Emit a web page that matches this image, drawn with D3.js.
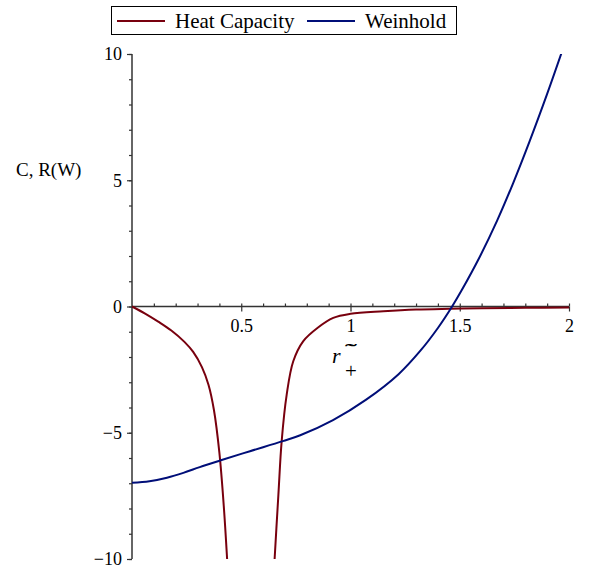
<!DOCTYPE html>
<html>
<head>
<meta charset="utf-8">
<script src="https://cdn.jsdelivr.net/npm/d3@7"></script>
<style>
  body { margin: 0; background: #fff; }
  text { font-family: "Liberation Serif", "Times New Roman", serif; fill: #000; }
</style>
</head>
<body>
<div id="viz"></div>
<script>
// heat capacity, left branch (before the pole) and right branch (after it)
var heatX1 = [0, 0.06, 0.12, 0.18, 0.24, 0.28, 0.32, 0.35, 0.375, 0.4, 0.42, 0.436, 0.445];
var heatY1 = [0, -0.28, -0.6, -0.95, -1.4, -1.8, -2.4, -3.1, -4.1, -5.8, -7.9, -10.1, -11.5];
var heatX2 = [0.64, 0.65, 0.67, 0.685, 0.708, 0.738, 0.784, 0.85, 0.921, 1.0, 1.15, 1.3, 1.455, 1.6, 1.8, 2.0];
var heatY2 = [-12, -10.4, -7.45, -5.33, -3.49, -2.17, -1.37, -0.84, -0.45, -0.29, -0.19, -0.12, -0.09, -0.07, -0.05, -0.04];

// Weinhold curvature
var weinX = [0, 0.08, 0.16, 0.235, 0.31, 0.403, 0.54, 0.69, 0.77, 0.92, 1.07, 1.22, 1.32, 1.40, 1.465, 1.51, 1.59, 1.67, 1.745, 1.82, 1.9, 1.966];
var weinY = [-6.98, -6.92, -6.78, -6.59, -6.36, -6.1, -5.73, -5.33, -5.1, -4.5, -3.7, -2.68, -1.75, -0.85, 0, 0.66, 1.94, 3.38, 4.9, 6.55, 8.42, 10.05];

var xMajor = [0.5, 1, 1.5, 2];
var xMinor = d3.range(1, 21).map(function(i) { return i / 10; });
var yMajor = [-10, -5, 0, 5, 10];
var yMinor = d3.range(-10, 11);

var legendNames = ["Heat Capacity", "Weinhold"];
var colors = ["#78000E", "#000E78"];

var width = 591, height = 572;

var svg = d3.select("#viz").append("svg")
    .attr("width", width)
    .attr("height", height);

svg.append("rect").attr("width", width).attr("height", height).attr("fill", "#fff");

var x = d3.scaleLinear().domain([0, 2]).range([132, 569]);
var y = d3.scaleLinear().domain([-10, 10]).range([559, 54]);

/* axes */
var axisColor = "#333";

var xAxisG = svg.append("g").attr("transform", "translate(0," + y(0) + ")");
xAxisG.call(d3.axisTop(x).tickValues(xMinor).tickSize(3).tickFormat(""));
xAxisG.call(function(g) { g.select(".domain").remove(); });
var xMajorG = svg.append("g").attr("transform", "translate(0," + y(0) + ")")
    .call(d3.axisBottom(x).tickValues(xMajor).tickSize(5).tickPadding(8).tickFormat(d3.format("")));
xMajorG.select(".domain").remove();
xMajorG.selectAll("text").style("font-size", "18px").style("font-family", "'Liberation Serif', serif");

var yMinorG = svg.append("g").attr("transform", "translate(" + x(0) + ",0)")
    .call(d3.axisLeft(y).tickValues(yMinor).tickSize(3).tickFormat(""));
yMinorG.select(".domain").remove();
var yMajorG = svg.append("g").attr("transform", "translate(" + x(0) + ",0)")
    .call(d3.axisLeft(y).tickValues(yMajor).tickSize(5).tickPadding(5)
      .tickFormat(function(d) { return d < 0 ? "\u2212" + Math.abs(d) : d; }));
yMajorG.select(".domain").remove();
yMajorG.selectAll("text").style("font-size", "18px").style("font-family", "'Liberation Serif', serif");

svg.selectAll(".tick line").attr("stroke", axisColor).attr("stroke-width", 1.2);

svg.append("line")
    .attr("x1", x(0)).attr("x2", x(2))
    .attr("y1", y(0)).attr("y2", y(0))
    .attr("stroke", axisColor).attr("stroke-width", 1.5);
svg.append("line")
    .attr("x1", x(0)).attr("x2", x(0))
    .attr("y1", y(10)).attr("y2", y(-10))
    .attr("stroke", axisColor).attr("stroke-width", 1.5);

/* axis labels */
svg.append("text")
    .attr("x", 16).attr("y", 176)
    .style("font-size", "19px")
    .text("C, R(W)");

// r, with a tilde above a "+" on its right
var xl = svg.append("g");
xl.append("text").attr("x", 332).attr("y", 363)
    .style("font-size", "22px").style("font-style", "italic").text("r");
xl.append("text").attr("x", 345).attr("y", 378)
    .style("font-size", "21px").text("+");
xl.append("text")
    .attr("transform", "translate(351,355.5) scale(2.1,1)")
    .attr("text-anchor", "middle")
    .style("font-size", "17px").style("font-weight", "bold").text("\u02DC");

/* curves */
svg.append("clipPath").attr("id", "plotclip")
  .append("rect")
    .attr("x", x(0)).attr("y", y(10))
    .attr("width", x(2) - x(0) + 2).attr("height", y(-10) - y(10));

var line = d3.line()
    .x(function(d) { return x(d[0]); })
    .y(function(d) { return y(d[1]); })
    .curve(d3.curveCatmullRom.alpha(0.5));

var curves = svg.append("g").attr("clip-path", "url(#plotclip)");

curves.append("path")
    .attr("d", line(d3.zip(heatX1, heatY1)))
    .attr("fill", "none").attr("stroke", colors[0]).attr("stroke-width", 2);
curves.append("path")
    .attr("d", line(d3.zip(heatX2, heatY2)))
    .attr("fill", "none").attr("stroke", colors[0]).attr("stroke-width", 2);
curves.append("path")
    .attr("d", line(d3.zip(weinX, weinY)))
    .attr("fill", "none").attr("stroke", colors[1]).attr("stroke-width", 2);

/* legend */
var legend = svg.append("g");
legend.append("rect")
    .attr("x", 111.5).attr("y", 6.5)
    .attr("width", 345).attr("height", 28)
    .attr("fill", "#fff").attr("stroke", "#000").attr("stroke-width", 1);

var legendX = [117, 307];
legendNames.forEach(function(name, i) {
  legend.append("line")
      .attr("x1", legendX[i]).attr("x2", legendX[i] + 48)
      .attr("y1", 21).attr("y2", 21)
      .attr("stroke", colors[i]).attr("stroke-width", 2);
  legend.append("text")
      .attr("x", legendX[i] + 58).attr("y", 28)
      .style("font-size", "21px")
      .text(name);
});
</script>
</body>
</html>
